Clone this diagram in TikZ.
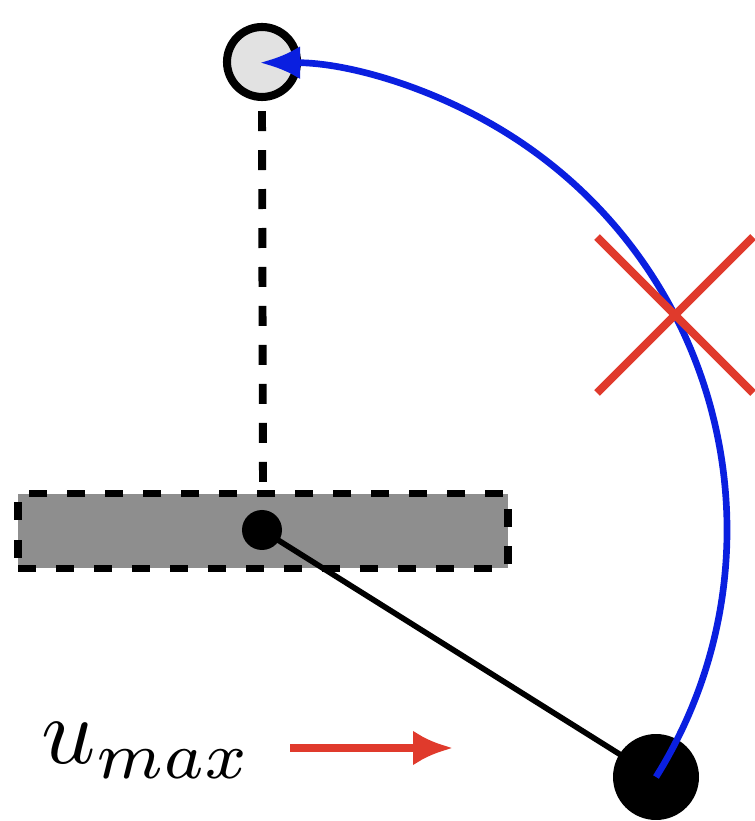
\documentclass[tikz,border=0pt]{standalone}
\usepackage{amsmath}
\usepackage{tikz}
\usetikzlibrary{arrows.meta,positioning,calc}
\definecolor{SwingBlue}{HTML}{0A1FE0}
\definecolor{PushRed}{HTML}{E03A2C}
\definecolor{CartGray}{HTML}{8E8E8E}
\definecolor{GoalFill}{HTML}{E2E2E2}

\begin{document}
\begin{tikzpicture}[x=0.02cm,y=0.02cm,
  cartbox/.style={draw,fill=CartGray,line width=4.5pt,dash pattern=on 0.36cm off 0.4cm,
    minimum width=9.8cm,minimum height=1.5cm,inner sep=0},
  goal/.style={circle,draw,fill=GoalFill,line width=4.6pt,minimum size=1.4cm,inner sep=0},
  joint/.style={circle,fill=black,minimum size=0.8cm,inner sep=0},
  bob/.style={circle,fill=black,minimum size=1.72cm,inner sep=0}]
  \useasboundingbox (0,0) rectangle (754,821);
  % cart and pendulum
  \node[cartbox] (cart) at (263,290) {};
  \node[goal] (top) at (262,759) {};
  \node[joint] (pivot) at (262,291) {};
  \node[bob] (ball) at (656,44) {};
  \draw[line width=4.5pt,dash pattern=on 0.4cm off 0.38cm] (top.south)++(0,-0.2cm) -- (cart.north);
  \draw[line width=3.2pt] (pivot.center) -- (ball.center);
  % swing-up path
  \draw[SwingBlue,line width=3.8pt,-{Latex[length=0.8cm,width=0.66cm]}]
    (ball.center) arc[start angle=-32,end angle=90,radius=9.34cm];
  % not allowed
  \coordinate (cross) at (675,506);
  \draw[PushRed,line width=4.6pt] ($(cross)+(-78,78)$) -- ($(cross)+(78,-78)$)
    ($(cross)+(-78,-78)$) -- ($(cross)+(78,78)$);
  % input bound
  \node[anchor=base west,inner sep=0,scale=5.4] (umax) at (40,57) {\(u_{max}\)};
  \coordinate (pushfrom) at (290,73);
  \coordinate (pushto) at (453,73);
  \draw[PushRed,line width=4.6pt,-{Latex[length=0.8cm,width=0.7cm]}] (pushfrom) -- (pushto);
\end{tikzpicture}
\end{document}
